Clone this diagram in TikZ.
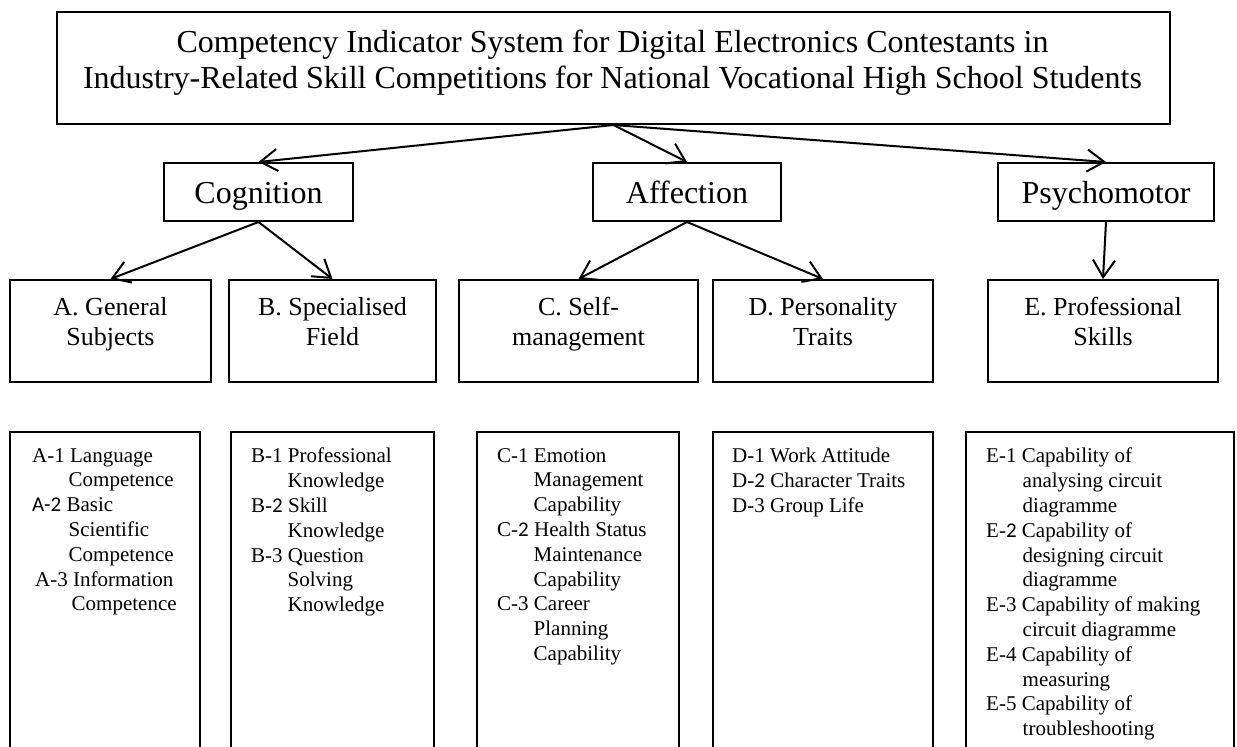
\documentclass[tikz,border=0pt]{standalone}
\usepackage{fontspec}
\setmainfont{Liberation Serif}
\newfontfamily\calib{Carlito}
\usetikzlibrary{arrows.meta,positioning}

\newcommand{\cont}{\hspace*{36.5pt}}

\begin{document}
\begin{tikzpicture}[x=1pt, y=-1pt,
    box/.style={draw, line width=2pt, inner sep=0pt, anchor=north west},
    link/.style={-{Straight Barb[length=17pt, width=22pt]}, line width=2pt},
    headtext/.style={font=\fontsize{32}{36}\selectfont},
    subtext/.style={font=\fontsize{26}{30}\selectfont, align=center, anchor=north, inner sep=0pt},
    itemtext/.style={font=\fontsize{21}{24.8}\selectfont, align=left, anchor=north west, inner sep=0pt}]
    \useasboundingbox (0,0) rectangle (1237,747);
    \clip (0,0) rectangle (1237,747);

    % Title
    \node[box, minimum width=1113, minimum height=112] (title) at (56,11) {};
    \node[headtext, align=center, anchor=north, inner sep=0pt] (titletext) at (612.5,30)
        {Competency Indicator System for Digital Electronics Contestants in\\
         Industry-Related Skill Competitions for National Vocational High School Students};

    % Domains
    \node[box, headtext, minimum width=189, minimum height=58, text height=22pt, text depth=0pt] (cog) at (163,162) {Cognition};
    \node[box, headtext, minimum width=188, minimum height=58, text height=22pt, text depth=0pt] (aff) at (592,162) {Affection};
    \node[box, headtext, minimum width=216, minimum height=58, text height=22pt, text depth=0pt] (psy) at (997,162) {Psychomotor};

    % Dimensions
    \node[box, minimum width=201, minimum height=102] (dimA) at (9,279) {};
    \node[box, minimum width=207, minimum height=102] (dimB) at (228,279) {};
    \node[box, minimum width=239, minimum height=102] (dimC) at (458,279) {};
    \node[box, minimum width=220, minimum height=102] (dimD) at (712,279) {};
    \node[box, minimum width=230, minimum height=102] (dimE) at (987,279) {};
    \node[subtext] (dimAtext) at ([yshift=-18pt]dimA.north) {A. General\\Subjects};
    \node[subtext] (dimBtext) at ([yshift=-18pt]dimB.north) {B. Specialised\\Field};
    \node[subtext] (dimCtext) at ([yshift=-18pt]dimC.north) {C. Self-\\management};
    \node[subtext] (dimDtext) at ([yshift=-18pt]dimD.north) {D. Personality\\Traits};
    \node[subtext] (dimEtext) at ([yshift=-18pt]dimE.north) {E. Professional\\Skills};

    % Indicator lists (open at the bottom)
    \node[box, minimum width=190, minimum height=340] (listA) at (9,431) {};
    \node[box, minimum width=203, minimum height=340] (listB) at (230,431) {};
    \node[box, minimum width=202, minimum height=340] (listC) at (476,431) {};
    \node[box, minimum width=220, minimum height=340] (listD) at (712,431) {};
    \node[box, minimum width=268, minimum height=340] (listE) at (965,431) {};

    \node[itemtext] (listAtext) at (32,448) {A-1 Language\\\cont Competence\\{\calib A-2} Basic\\\cont Scientific\\\cont Competence\\\hspace*{3pt}A-3 Information\\\hspace*{39.5pt}Competence};
    \node[itemtext] (listBtext) at (251,448) {B-1 Professional\\\cont Knowledge\\B-{\calib 2} Skill\\\cont Knowledge\\B-3 Question\\\cont Solving\\\cont Knowledge};
    \node[itemtext] (listCtext) at (497,448) {C-1 Emotion\\\cont Management\\\cont Capability\\C-{\calib 2} Health Status\\\cont Maintenance\\\cont Capability\\C-3 Career\\\cont Planning\\\cont Capability};
    \node[itemtext] (listDtext) at (732,448) {D-1 Work Attitude\\D-{\calib 2} Character Traits\\D-3 Group Life};
    \node[itemtext] (listEtext) at (986,448) {E-1 Capability of\\\cont analysing circuit\\\cont diagramme\\E-{\calib 2} Capability of\\\cont designing circuit\\\cont diagramme\\E-3 Capability of making\\\cont circuit diagramme\\E-4 Capability of\\\cont measuring\\E-5 Capability of\\\cont troubleshooting};

    % Connectors
    \foreach \dom in {cog,aff,psy}
        \draw[link] (title.south) -- (\dom.north);
    \draw[link] (cog.south) -- (dimA.north);
    \draw[link] (cog.south) -- (dimB.north);
    \draw[link] (aff.south) -- (dimC.north);
    \draw[link] (aff.south) -- (dimD.north);
    \draw[link] (psy.south) -- (dimE.north);
\end{tikzpicture}
\end{document}
